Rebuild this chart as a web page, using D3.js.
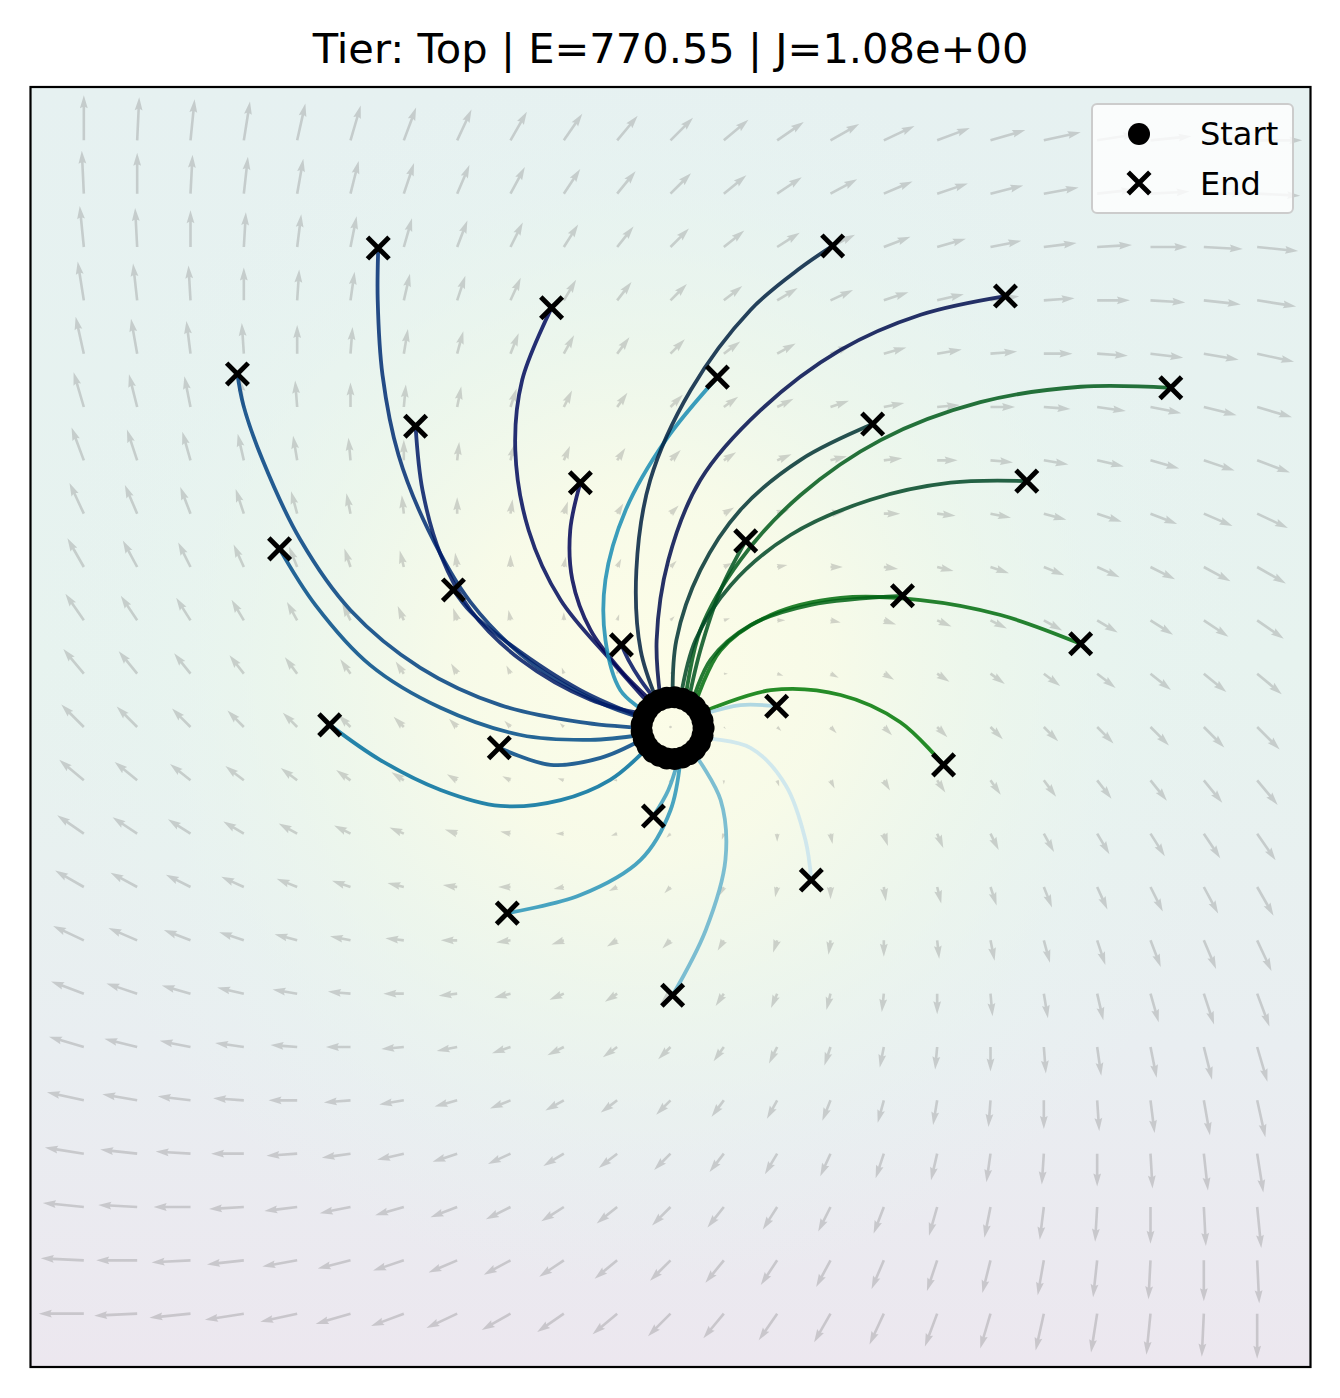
<!DOCTYPE html>
<html>
<head>
<meta charset="utf-8">
<script src="https://cdn.jsdelivr.net/npm/d3@7"></script>
<style>
  body { margin: 0; background: #ffffff; }
  svg text { font-family: "DejaVu Sans", sans-serif; }
</style>
</head>
<body>
<div id="canvas"></div>
<script>
"use strict";

/* ---------- Data ---------- */
let titleText = "Tier: Top | E=770.55 | J=1.08e+00";
let legendLabels = ["Start", "End"];

// quiver grid (same ticks for x and y)
let gridTicks = [-11, -10, -9, -8, -7, -6, -5, -4, -3, -2, -1, 0, 1, 2, 3, 4, 5, 6, 7, 8, 9, 10, 11];

// vector components, one row per grid y (top row first)
let quiverU = [
  [0, 1, 2, 3, 4, 5, 6, 7, 8, 9, 10, 11, 12, 13, 14, 15, 16, 17, 18, 19, 20, 21, 22],
  [-1, 0, 1, 2, 3, 4, 5, 6, 7, 8, 9, 10, 11, 12, 13, 14, 15, 16, 17, 18, 19, 20, 21],
  [-2, -1, 0, 1, 2, 3, 4, 5, 6, 7, 8, 9, 10, 11, 12, 13, 14, 15, 16, 17, 18, 19, 20],
  [-3, -2, -1, 0, 1, 2, 3, 4, 5, 6, 7, 8, 9, 10, 11, 12, 13, 14, 15, 16, 17, 18, 19],
  [-4, -3, -2, -1, 0, 1, 2, 3, 4, 5, 6, 7, 8, 9, 10, 11, 12, 13, 14, 15, 16, 17, 18],
  [-5, -4, -3, -2, -1, 0, 1, 2, 3, 4, 5, 6, 7, 8, 9, 10, 11, 12, 13, 14, 15, 16, 17],
  [-6, -5, -4, -3, -2, -1, 0, 1, 2, 3, 4, 5, 6, 7, 8, 9, 10, 11, 12, 13, 14, 15, 16],
  [-7, -6, -5, -4, -3, -2, -1, 0, 1, 2, 3, 4, 5, 6, 7, 8, 9, 10, 11, 12, 13, 14, 15],
  [-8, -7, -6, -5, -4, -3, -2, -1, 0, 1, 2, 3, 4, 5, 6, 7, 8, 9, 10, 11, 12, 13, 14],
  [-9, -8, -7, -6, -5, -4, -3, -2, -1, 0, 1, 2, 3, 4, 5, 6, 7, 8, 9, 10, 11, 12, 13],
  [-10, -9, -8, -7, -6, -5, -4, -3, -2, -1, 0, 1, 2, 3, 4, 5, 6, 7, 8, 9, 10, 11, 12],
  [-11, -10, -9, -8, -7, -6, -5, -4, -3, -2, -1, 0, 1, 2, 3, 4, 5, 6, 7, 8, 9, 10, 11],
  [-12, -11, -10, -9, -8, -7, -6, -5, -4, -3, -2, -1, 0, 1, 2, 3, 4, 5, 6, 7, 8, 9, 10],
  [-13, -12, -11, -10, -9, -8, -7, -6, -5, -4, -3, -2, -1, 0, 1, 2, 3, 4, 5, 6, 7, 8, 9],
  [-14, -13, -12, -11, -10, -9, -8, -7, -6, -5, -4, -3, -2, -1, 0, 1, 2, 3, 4, 5, 6, 7, 8],
  [-15, -14, -13, -12, -11, -10, -9, -8, -7, -6, -5, -4, -3, -2, -1, 0, 1, 2, 3, 4, 5, 6, 7],
  [-16, -15, -14, -13, -12, -11, -10, -9, -8, -7, -6, -5, -4, -3, -2, -1, 0, 1, 2, 3, 4, 5, 6],
  [-17, -16, -15, -14, -13, -12, -11, -10, -9, -8, -7, -6, -5, -4, -3, -2, -1, 0, 1, 2, 3, 4, 5],
  [-18, -17, -16, -15, -14, -13, -12, -11, -10, -9, -8, -7, -6, -5, -4, -3, -2, -1, 0, 1, 2, 3, 4],
  [-19, -18, -17, -16, -15, -14, -13, -12, -11, -10, -9, -8, -7, -6, -5, -4, -3, -2, -1, 0, 1, 2, 3],
  [-20, -19, -18, -17, -16, -15, -14, -13, -12, -11, -10, -9, -8, -7, -6, -5, -4, -3, -2, -1, 0, 1, 2],
  [-21, -20, -19, -18, -17, -16, -15, -14, -13, -12, -11, -10, -9, -8, -7, -6, -5, -4, -3, -2, -1, 0, 1],
  [-22, -21, -20, -19, -18, -17, -16, -15, -14, -13, -12, -11, -10, -9, -8, -7, -6, -5, -4, -3, -2, -1, 0]
];
let quiverV = [
  [22, 21, 20, 19, 18, 17, 16, 15, 14, 13, 12, 11, 10, 9, 8, 7, 6, 5, 4, 3, 2, 1, 0],
  [21, 20, 19, 18, 17, 16, 15, 14, 13, 12, 11, 10, 9, 8, 7, 6, 5, 4, 3, 2, 1, 0, -1],
  [20, 19, 18, 17, 16, 15, 14, 13, 12, 11, 10, 9, 8, 7, 6, 5, 4, 3, 2, 1, 0, -1, -2],
  [19, 18, 17, 16, 15, 14, 13, 12, 11, 10, 9, 8, 7, 6, 5, 4, 3, 2, 1, 0, -1, -2, -3],
  [18, 17, 16, 15, 14, 13, 12, 11, 10, 9, 8, 7, 6, 5, 4, 3, 2, 1, 0, -1, -2, -3, -4],
  [17, 16, 15, 14, 13, 12, 11, 10, 9, 8, 7, 6, 5, 4, 3, 2, 1, 0, -1, -2, -3, -4, -5],
  [16, 15, 14, 13, 12, 11, 10, 9, 8, 7, 6, 5, 4, 3, 2, 1, 0, -1, -2, -3, -4, -5, -6],
  [15, 14, 13, 12, 11, 10, 9, 8, 7, 6, 5, 4, 3, 2, 1, 0, -1, -2, -3, -4, -5, -6, -7],
  [14, 13, 12, 11, 10, 9, 8, 7, 6, 5, 4, 3, 2, 1, 0, -1, -2, -3, -4, -5, -6, -7, -8],
  [13, 12, 11, 10, 9, 8, 7, 6, 5, 4, 3, 2, 1, 0, -1, -2, -3, -4, -5, -6, -7, -8, -9],
  [12, 11, 10, 9, 8, 7, 6, 5, 4, 3, 2, 1, 0, -1, -2, -3, -4, -5, -6, -7, -8, -9, -10],
  [11, 10, 9, 8, 7, 6, 5, 4, 3, 2, 1, 0, -1, -2, -3, -4, -5, -6, -7, -8, -9, -10, -11],
  [10, 9, 8, 7, 6, 5, 4, 3, 2, 1, 0, -1, -2, -3, -4, -5, -6, -7, -8, -9, -10, -11, -12],
  [9, 8, 7, 6, 5, 4, 3, 2, 1, 0, -1, -2, -3, -4, -5, -6, -7, -8, -9, -10, -11, -12, -13],
  [8, 7, 6, 5, 4, 3, 2, 1, 0, -1, -2, -3, -4, -5, -6, -7, -8, -9, -10, -11, -12, -13, -14],
  [7, 6, 5, 4, 3, 2, 1, 0, -1, -2, -3, -4, -5, -6, -7, -8, -9, -10, -11, -12, -13, -14, -15],
  [6, 5, 4, 3, 2, 1, 0, -1, -2, -3, -4, -5, -6, -7, -8, -9, -10, -11, -12, -13, -14, -15, -16],
  [5, 4, 3, 2, 1, 0, -1, -2, -3, -4, -5, -6, -7, -8, -9, -10, -11, -12, -13, -14, -15, -16, -17],
  [4, 3, 2, 1, 0, -1, -2, -3, -4, -5, -6, -7, -8, -9, -10, -11, -12, -13, -14, -15, -16, -17, -18],
  [3, 2, 1, 0, -1, -2, -3, -4, -5, -6, -7, -8, -9, -10, -11, -12, -13, -14, -15, -16, -17, -18, -19],
  [2, 1, 0, -1, -2, -3, -4, -5, -6, -7, -8, -9, -10, -11, -12, -13, -14, -15, -16, -17, -18, -19, -20],
  [1, 0, -1, -2, -3, -4, -5, -6, -7, -8, -9, -10, -11, -12, -13, -14, -15, -16, -17, -18, -19, -20, -21],
  [0, -1, -2, -3, -4, -5, -6, -7, -8, -9, -10, -11, -12, -13, -14, -15, -16, -17, -18, -19, -20, -21, -22]
];

// start positions (ring around the origin)
let startPoints = [
  [0.62, -0.02], [0.60, 0.12], [0.55, 0.26], [0.46, 0.38], [0.35, 0.47],
  [0.22, 0.53], [0.08, 0.56], [-0.07, 0.55], [-0.21, 0.50], [-0.33, 0.43],
  [-0.43, 0.32], [-0.50, 0.19], [-0.54, 0.05], [-0.54, -0.09], [-0.50, -0.23],
  [-0.43, -0.36], [-0.33, -0.47], [-0.21, -0.54], [-0.07, -0.59], [0.08, -0.60],
  [0.22, -0.57], [0.35, -0.51], [0.46, -0.42], [0.55, -0.30], [0.60, -0.16]
];

// trajectories (visible part, from the ring to the end point)
let trajectories = [
  [[-0.54, 0.17], [-1.31, 0.45], [-2.63, 1.22], [-3.75, 2.34], [-4.54, 3.69], [-5.10, 5.10], [-5.40, 6.60], [-5.49, 8.01], [-5.48, 8.98]],
  [[-0.54, -0.02], [-1.69, 0.09], [-3.19, 0.41], [-4.69, 1.11], [-6.00, 2.19], [-6.94, 3.51], [-7.65, 5.01], [-8.01, 6.04], [-8.12, 6.62]],
  [[-0.54, -0.15], [-1.50, -0.24], [-2.81, -0.15], [-4.31, 0.36], [-5.63, 1.16], [-6.66, 2.29], [-7.33, 3.34]],
  [[-0.47, -0.43], [-1.13, -0.99], [-2.06, -1.37], [-3.19, -1.48], [-4.31, -1.18], [-5.44, -0.62], [-6.39, 0.04]],
  [[-0.54, -0.24], [-1.31, -0.58], [-2.25, -0.71], [-3.21, -0.39]],
  [[-0.51, 0.17], [-1.69, 0.69], [-3.00, 1.54], [-3.75, 2.16], [-4.07, 2.57]],
  [[-0.49, 0.24], [-1.50, 0.51], [-2.81, 1.26], [-3.75, 2.19], [-4.31, 3.23], [-4.65, 4.44], [-4.78, 5.64]],
  [[-0.38, 0.41], [-1.13, 1.26], [-2.06, 2.38], [-2.66, 3.69], [-2.91, 5.19], [-2.78, 6.51], [-2.23, 7.86]],
  [[-0.34, 0.47], [-0.94, 1.07], [-1.50, 1.82], [-1.84, 2.76], [-1.88, 3.69], [-1.69, 4.58]],
  [[-0.28, 0.51], [-0.56, 0.88], [-0.79, 1.26], [-0.92, 1.54]],
  [[-0.47, 0.28], [-0.94, 0.69], [-1.22, 1.63], [-1.22, 2.76], [-0.84, 4.07], [-0.09, 5.38], [0.88, 6.56]],
  [[-0.26, 0.51], [-0.56, 1.44], [-0.64, 2.94], [-0.38, 4.63], [0.38, 6.32], [1.50, 7.82], [2.44, 8.61], [3.04, 9.02]],
  [[-0.19, 0.54], [-0.26, 1.63], [-0.04, 3.13], [0.56, 4.63], [1.69, 5.94], [3.19, 7.07], [4.69, 7.73], [6.28, 8.08]],
  [[0.04, 0.56], [0.11, 1.63], [0.56, 2.94], [1.31, 4.07], [2.44, 5.01], [3.79, 5.68]],
  [[0.28, 0.54], [0.56, 1.82], [1.31, 3.13], [2.44, 4.35], [3.94, 5.38], [5.81, 6.09], [7.69, 6.38], [9.38, 6.36]],
  [[0.19, 0.56], [0.47, 1.63], [1.13, 2.66], [2.25, 3.60], [3.75, 4.26], [5.25, 4.58], [6.68, 4.61]],
  [[0.34, 0.51], [0.56, 1.44], [0.94, 2.57], [1.41, 3.49]],
  [[0.47, 0.45], [0.94, 1.44], [1.88, 2.10], [3.19, 2.42], [4.69, 2.38], [6.19, 2.10], [7.69, 1.56]],
  [[0.41, 0.47], [0.75, 1.26], [1.50, 1.91], [2.63, 2.29], [4.35, 2.46]],
  [[0.60, 0.28], [1.88, 0.69], [3.19, 0.60], [4.31, 0.09], [5.12, -0.71]],
  [[0.62, 0.24], [1.31, 0.41], [1.99, 0.39]],
  [[0.62, -0.21], [1.50, -0.39], [2.16, -1.09], [2.53, -2.12], [2.64, -2.87]],
  [[0.47, -0.53], [0.94, -1.37], [1.03, -2.49], [0.66, -3.81], [0.04, -5.03]],
  [[0.19, -0.58], [0.00, -1.56], [-0.56, -2.49], [-1.69, -3.15], [-3.06, -3.49]],
  [[0.15, -0.60], [-0.04, -1.18], [-0.32, -1.67]]
];

// colour value of each trajectory (ocean colormap, 0..1)
let trajColorValue = [0.45, 0.50, 0.53, 0.62, 0.52, 0.42, 0.40, 0.36, 0.34, 0.38, 0.70, 0.25, 0.30,
  0.20, 0.10, 0.15, 0.12, 0.05, 0.08, 0.02, 0.88, 0.93, 0.80, 0.72, 0.75];

/* ---------- SVG setup ---------- */
let svgWidth = 1340;
let svgHeight = 1398;
let plotLeft = 30.5;
let plotRight = 1310.5;
let plotTop = 87;
let plotBottom = 1367;

let svg = d3.select("#canvas")
  .append("svg")
  .attr("width", svgWidth)
  .attr("height", svgHeight);

let xScale = d3.scaleLinear().domain([-12, 12]).range([plotLeft, plotRight]);
let yScale = d3.scaleLinear().domain([-12, 12]).range([plotBottom, plotTop]);

// matplotlib "ocean" colormap
function ocean(t) {
  let r = Math.max(0, 3 * t - 2);
  let g = Math.abs(3 * t - 1) / 2;
  let b = t;
  return d3.rgb(r * 255, g * 255, b * 255).formatHex();
}

/* ---------- Background field ---------- */
let defs = svg.append("defs");

let vGrad = defs.append("linearGradient")
  .attr("id", "bgVert")
  .attr("x1", 0).attr("y1", 0).attr("x2", 0).attr("y2", 1);
vGrad.append("stop").attr("offset", "0%").attr("stop-color", "#e6f1f1");
vGrad.append("stop").attr("offset", "45%").attr("stop-color", "#e7f3ef");
vGrad.append("stop").attr("offset", "75%").attr("stop-color", "#e9eef1");
vGrad.append("stop").attr("offset", "100%").attr("stop-color", "#ece7ef");

let rGrad = defs.append("radialGradient")
  .attr("id", "bgRad")
  .attr("gradientUnits", "userSpaceOnUse")
  .attr("cx", xScale(-0.5)).attr("cy", yScale(1))
  .attr("r", 620);
rGrad.append("stop").attr("offset", "0%").attr("stop-color", "#fdfde7").attr("stop-opacity", 1);
rGrad.append("stop").attr("offset", "30%").attr("stop-color", "#f8fbe8").attr("stop-opacity", 0.95);
rGrad.append("stop").attr("offset", "55%").attr("stop-color", "#eef8eb").attr("stop-opacity", 0.7);
rGrad.append("stop").attr("offset", "80%").attr("stop-color", "#e8f5f0").attr("stop-opacity", 0.3);
rGrad.append("stop").attr("offset", "100%").attr("stop-color", "#e8f3f1").attr("stop-opacity", 0);

defs.append("clipPath").attr("id", "plotClip")
  .append("rect")
  .attr("x", plotLeft).attr("y", plotTop)
  .attr("width", plotRight - plotLeft).attr("height", plotBottom - plotTop);

svg.append("rect")
  .attr("x", plotLeft).attr("y", plotTop)
  .attr("width", plotRight - plotLeft).attr("height", plotBottom - plotTop)
  .attr("fill", "url(#bgVert)");
svg.append("rect")
  .attr("x", plotLeft).attr("y", plotTop)
  .attr("width", plotRight - plotLeft).attr("height", plotBottom - plotTop)
  .attr("fill", "url(#bgRad)");

/* ---------- Quiver ---------- */
let quiverScale = 0.0384;   // data units per unit of vector
let shaftW = 2.6;
let headLen = 5 * shaftW;
let headAxis = 4.5 * shaftW;
let headW = 3 * shaftW;

function arrowPath(x0, y0, x1, y1) {
  let dx = x1 - x0;
  let dy = y1 - y0;
  let len = Math.hypot(dx, dy);
  let full = Math.max(len, headLen);
  let s = Math.min(1, len / headLen);
  let c = dx / len;
  let sn = dy / len;
  let pts = [
    [0, shaftW / 2], [full - headAxis, shaftW / 2], [full - headLen, headW / 2], [full, 0],
    [full - headLen, -headW / 2], [full - headAxis, -shaftW / 2], [0, -shaftW / 2]
  ];
  return "M" + pts.map(function (p) {
    let a = p[0] * s;
    let b = p[1] * s;
    return (x0 + a * c - b * sn).toFixed(2) + "," + (y0 + a * sn + b * c).toFixed(2);
  }).join("L") + "Z";
}

let quiverG = svg.append("g").attr("clip-path", "url(#plotClip)");
for (let j = 0; j < gridTicks.length; j++) {
  let gy = gridTicks[gridTicks.length - 1 - j];
  for (let i = 0; i < gridTicks.length; i++) {
    let gx = gridTicks[i];
    let u = quiverU[j][i];
    let v = quiverV[j][i];
    let x0 = xScale(gx);
    let y0 = yScale(gy);
    let x1 = xScale(gx + u * quiverScale);
    let y1 = yScale(gy + v * quiverScale);
    if (Math.hypot(x1 - x0, y1 - y0) < shaftW) {
      quiverG.append("circle")
        .attr("cx", x0).attr("cy", y0).attr("r", 1.3)
        .attr("fill", "#808080").attr("fill-opacity", 0.32);
    } else {
      quiverG.append("path")
        .attr("d", arrowPath(x0, y0, x1, y1))
        .attr("fill", "#808080")
        .attr("fill-opacity", 0.32);
    }
  }
}

/* ---------- Trajectories ---------- */
let line = d3.line()
  .x(function (d) { return xScale(d[0]); })
  .y(function (d) { return yScale(d[1]); })
  .curve(d3.curveCatmullRom.alpha(0.5));

let trajG = svg.append("g").attr("clip-path", "url(#plotClip)");
for (let k = 0; k < trajectories.length; k++) {
  trajG.append("path")
    .attr("d", line(trajectories[k]))
    .attr("fill", "none")
    .attr("stroke", ocean(trajColorValue[k]))
    .attr("stroke-width", 3.8)
    .attr("stroke-opacity", 0.85)
    .attr("stroke-linecap", "butt");
}

/* ---------- Start / end markers ---------- */
let markerR = 11;
let crossR = 10.8;

for (let k = 0; k < startPoints.length; k++) {
  svg.append("circle")
    .attr("cx", xScale(startPoints[k][0]))
    .attr("cy", yScale(startPoints[k][1]))
    .attr("r", markerR)
    .attr("fill", "black");
}

function drawCross(g, cx, cy) {
  g.append("path")
    .attr("d", "M" + (cx - crossR) + "," + (cy - crossR) + "L" + (cx + crossR) + "," + (cy + crossR) +
      "M" + (cx - crossR) + "," + (cy + crossR) + "L" + (cx + crossR) + "," + (cy - crossR))
    .attr("stroke", "black")
    .attr("stroke-width", 4.9)
    .attr("fill", "none");
}

for (let k = 0; k < trajectories.length; k++) {
  let last = trajectories[k][trajectories[k].length - 1];
  drawCross(svg, xScale(last[0]), yScale(last[1]));
}

/* ---------- Frame ---------- */
svg.append("rect")
  .attr("x", plotLeft).attr("y", plotTop)
  .attr("width", plotRight - plotLeft).attr("height", plotBottom - plotTop)
  .attr("fill", "none")
  .attr("stroke", "black")
  .attr("stroke-width", 2.2);

/* ---------- Title ---------- */
svg.append("text")
  .attr("x", (plotLeft + plotRight) / 2)
  .attr("y", 63)
  .attr("text-anchor", "middle")
  .style("font-size", "41.6px")
  .text(titleText);

/* ---------- Legend ---------- */
let legX = 1092;
let legY = 104;
let legW = 201;
let legH = 109;

svg.append("rect")
  .attr("x", legX).attr("y", legY)
  .attr("width", legW).attr("height", legH)
  .attr("rx", 5)
  .attr("fill", "white")
  .attr("fill-opacity", 0.8)
  .attr("stroke", "#cccccc")
  .attr("stroke-width", 2);

svg.append("circle")
  .attr("cx", legX + 47).attr("cy", legY + 30)
  .attr("r", markerR)
  .attr("fill", "black");
drawCross(svg, legX + 47, legY + 79);

for (let i = 0; i < legendLabels.length; i++) {
  svg.append("text")
    .attr("x", legX + 108)
    .attr("y", legY + 41 + i * 50)
    .style("font-size", "32px")
    .text(legendLabels[i]);
}
</script>
</body>
</html>
